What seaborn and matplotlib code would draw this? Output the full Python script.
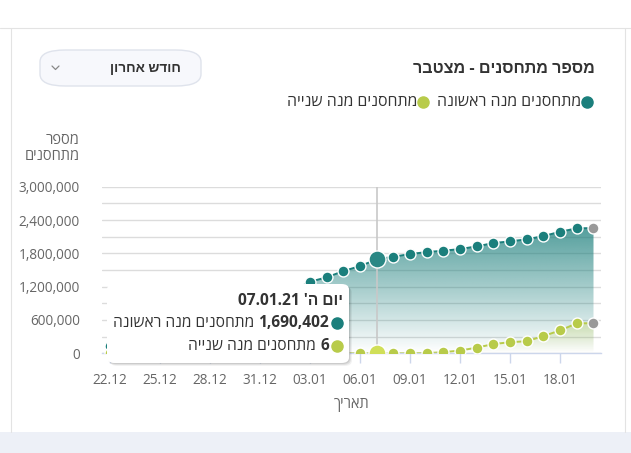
import numpy as np
import pandas as pd
import matplotlib
matplotlib.use("Agg")
import matplotlib.pyplot as plt
import seaborn as sns
from matplotlib.patches import FancyBboxPatch, Rectangle, PathPatch
from matplotlib.lines import Line2D
from matplotlib.colors import to_rgb

# ---------------- data ----------------
dates = ["22.12", "23.12", "24.12", "25.12", "26.12", "27.12", "28.12", "29.12",
         "30.12", "31.12", "01.01", "02.01", "03.01", "04.01", "05.01", "06.01",
         "07.01", "08.01", "09.01", "10.01", "11.01", "12.01", "13.01", "14.01",
         "15.01", "16.01", "17.01", "18.01", "19.01", "20.01"]
dose1 = [130000, 190000, 260000, 340000, 400000, 470000, 570000, 690000,
         820000, 950000, 1060000, 1130000, 1289000, 1368000, 1481000, 1571000,
         1690402, 1739000, 1787000, 1823000, 1847000, 1877000, 1926000, 1985000,
         2016000, 2052000, 2111000, 2189000, 2250000, 2255000]
dose2 = [0, 0, 0, 0, 0, 0, 0, 0,
         0, 0, 0, 0, 0, 0, 0, 0,
         6, 0, 0, 4000, 20000, 50000, 102000, 167000,
         200000, 218000, 311000, 413000, 540000, 542000]
tick_labels = ["22.12", "25.12", "28.12", "31.12", "03.01", "06.01",
               "09.01", "12.01", "15.01", "18.01"]
y_ticks = [0, 300000, 600000, 900000, 1200000, 1500000, 1800000,
           2100000, 2400000, 2700000, 3000000]
series_names = ["מתחסנים מנה ראשונה", "מתחסנים מנה שנייה"]
title_text = "מספר מתחסנים - מצטבר"
dropdown_text = "חודש אחרון"
y_title = ["מספר", "מתחסנים"]
x_title = "תאריך"
hover_date = "07.01"
tooltip_day = "יום ה'"
tooltip_date = "07.01.21"

TEAL = "#1b7f7c"
LIME = "#b8cb4a"
GRAY_TXT = "#666666"
DARK_TXT = "#333333"


def rtl(s):
    """Hebrew text is drawn left-to-right by matplotlib: reverse to visual order."""
    return s[::-1]


W, H = 631, 453


def fx(x):
    return x / W


def fy(y):
    return 1 - y / H


sns.set_theme(style="white")
plt.rcParams["font.family"] = ["Open Sans", "Liberation Sans", "DejaVu Sans"]

fig = plt.figure(figsize=(W / 100, H / 100), dpi=100)
fig.patch.set_facecolor("white")

# card frame and bottom band
fig.add_artist(Line2D([fx(0), fx(631)], [fy(28), fy(28)], color="#e3e3e3", lw=0.8,
                      transform=fig.transFigure))
fig.add_artist(Line2D([fx(10.5), fx(10.5)], [fy(28), fy(432)], color="#e3e3e3", lw=0.8,
                      transform=fig.transFigure))
fig.add_artist(Line2D([fx(625), fx(625)], [fy(28), fy(432)], color="#e3e3e3", lw=0.8,
                      transform=fig.transFigure))
fig.add_artist(Rectangle((0, 0), 1, fy(432), transform=fig.transFigure,
                         facecolor="#edf0f7", edgecolor="none"))

ax = fig.add_axes([fx(102), fy(353.3), (601 - 102) / W, (353.3 - 186.7) / H])

df = pd.DataFrame({"day": np.arange(len(dates)), "date": dates,
                   "dose1": dose1, "dose2": dose2})
xmin, xmax = -0.48, 29.45
ymin, ymax = 0, 3000000


def gradient_fill(x, y, color, alpha_fn, z):
    poly = ax.fill_between(x, y, 0, facecolor="none", edgecolor="none")
    path = poly.get_paths()[0]
    patch = PathPatch(path, transform=ax.transData, facecolor="none", edgecolor="none")
    ax.add_patch(patch)
    n = 256
    fr = np.linspace(0, 1, n)
    img = np.zeros((n, 2, 4))
    img[:, :, :3] = to_rgb(color)
    img[:, :, 3] = alpha_fn(fr)[:, None]
    im = ax.imshow(img, extent=[xmin, xmax, ymin, ymax], origin="lower",
                   aspect="auto", zorder=z, interpolation="bilinear")
    im.set_clip_path(patch)


gradient_fill(df["day"], df["dose1"], TEAL, lambda f: np.clip(1.0 * f, 0, 0.8), 1.0)
gradient_fill(df["day"], df["dose2"], LIME, lambda f: np.clip(1.9 * f, 0, 0.6), 1.1)

hover_i = dates.index(hover_date)
ax.axvline(hover_i, color="#c8c8c8", lw=1.2, zorder=1.5)

sns.lineplot(data=df, x="day", y="dose1", ax=ax, color=TEAL, lw=1.4, zorder=2)
sns.lineplot(data=df, x="day", y="dose2", ax=ax, color=LIME, lw=1.4, zorder=2)

body = df.iloc[:-1]
last = df.iloc[-1:]
sns.scatterplot(data=body, x="day", y="dose1", ax=ax, color=TEAL, s=62,
                edgecolor="white", linewidth=1, zorder=3)
sns.scatterplot(data=body, x="day", y="dose2", ax=ax, color=LIME, s=62,
                edgecolor="white", linewidth=1, zorder=3)
sns.scatterplot(data=last, x="day", y="dose1", ax=ax, color="#999999", s=62,
                edgecolor="white", linewidth=1, zorder=3)
sns.scatterplot(data=last, x="day", y="dose2", ax=ax, color="#999999", s=62,
                edgecolor="white", linewidth=1, zorder=3)
hov = df.iloc[hover_i:hover_i + 1]
sns.scatterplot(data=hov, x="day", y="dose1", ax=ax, color="#2a8885", s=150,
                edgecolor="white", linewidth=1, zorder=4)
sns.scatterplot(data=hov, x="day", y="dose2", ax=ax, color="#d0df58", s=150,
                edgecolor="white", linewidth=1, zorder=4)

ax.set_xlim(xmin, xmax)
ax.set_ylim(ymin, ymax)
ax.set_xlabel("")
ax.set_ylabel("")
for s in ["top", "right", "left"]:
    ax.spines[s].set_visible(False)
ax.spines["bottom"].set_color("#ccd6eb")
ax.spines["bottom"].set_linewidth(1)

ax.set_yticks(y_ticks)
ax.set_yticklabels([f"{v:,}" if i % 2 == 0 else "" for i, v in enumerate(y_ticks)])
ax.grid(axis="y", color="#dcdcdc", lw=1)
ax.set_axisbelow(True)
ax.tick_params(axis="y", length=0, pad=16, labelsize=9.8, labelcolor=GRAY_TXT)

ax.set_xticks([dates.index(t) for t in tick_labels])
ax.set_xticklabels(tick_labels)
ax.tick_params(axis="x", length=7.2, width=1, color="#ccd6eb", direction="out",
               pad=7, labelsize=9.8, labelcolor=GRAY_TXT, bottom=True)

# axis titles
fig.text(fx(80), fy(140), rtl(y_title[0]), ha="right", va="center",
         fontsize=10.5, color=GRAY_TXT)
fig.text(fx(80), fy(156), rtl(y_title[1]), ha="right", va="center",
         fontsize=10.5, color=GRAY_TXT)
fig.text(fx(352), fy(405), rtl(x_title), ha="center", va="center",
         fontsize=10.5, color=GRAY_TXT)

# title
fig.text(fx(595), fy(69), rtl(title_text), ha="right", va="center",
         fontsize=11.6, fontweight="bold", color=DARK_TXT)

# legend
for cx, col, name in [(587, TEAL, series_names[0]), (423, LIME, series_names[1])]:
    fig.add_artist(Line2D([fx(cx)], [fy(102)], marker="o", ms=8, color=col,
                          lw=0, transform=fig.transFigure))
    fig.text(fx(cx - 6), fy(102), rtl(name), ha="right", va="center",
             fontsize=11.4, color=DARK_TXT)

# dropdown
fig.add_artist(FancyBboxPatch((fx(40), fy(86)), fx(201) - fx(40), fy(50) - fy(86),
                              boxstyle="round,pad=0,rounding_size=0.04",
                              transform=fig.transFigure, facecolor="#f7f8fc",
                              edgecolor="#dfe3ec", lw=1, mutation_aspect=0.65))
fig.text(fx(181), fy(68), rtl(dropdown_text), ha="right", va="center",
         fontsize=9.8, fontweight="bold", color=DARK_TXT)
fig.add_artist(Line2D([fx(52), fx(55.5), fx(59)], [fy(66), fy(69.5), fy(66)],
                      color="#888888", lw=0.9, transform=fig.transFigure))

# tooltip
for off, a in [(3, 0.05), (2, 0.07), (1, 0.09)]:
    fig.add_artist(FancyBboxPatch((fx(107 + off), fy(363 + off)), fx(349) - fx(107),
                                  fy(284) - fy(363),
                                  boxstyle="round,pad=0,rounding_size=0.012",
                                  transform=fig.transFigure, facecolor="black",
                                  alpha=a, edgecolor="none", zorder=9))
fig.add_artist(FancyBboxPatch((fx(107), fy(363)), fx(349) - fx(107), fy(284) - fy(363),
                              boxstyle="round,pad=0,rounding_size=0.012",
                              transform=fig.transFigure, facecolor="white",
                              edgecolor="none", zorder=10))

fig.canvas.draw()
renderer = fig.canvas.get_renderer()

t_head = fig.text(fx(343), fy(301), tooltip_date + " " + rtl(tooltip_day), ha="right",
                  va="center", fontsize=11.2, fontweight="bold", color=DARK_TXT, zorder=11)

rows = [(323, TEAL, f"{dose1[hover_i]:,}", series_names[0]),
        (346, LIME, f"{dose2[hover_i]:,}", series_names[1])]
for yy, col, num, name in rows:
    fig.add_artist(Line2D([fx(337)], [fy(yy)], marker="o", ms=8, color=col, lw=0,
                          transform=fig.transFigure, zorder=11))
    tn = fig.text(fx(329), fy(yy), num, ha="right", va="center", fontsize=11.2,
                  fontweight="bold", color=DARK_TXT, zorder=11)
    bb = tn.get_window_extent(renderer)
    fig.text((bb.x0 - 4) / W, fy(yy), rtl(name), ha="right", va="center",
             fontsize=11.2, color=DARK_TXT, zorder=11)

fig.savefig("out.png", dpi=100)
